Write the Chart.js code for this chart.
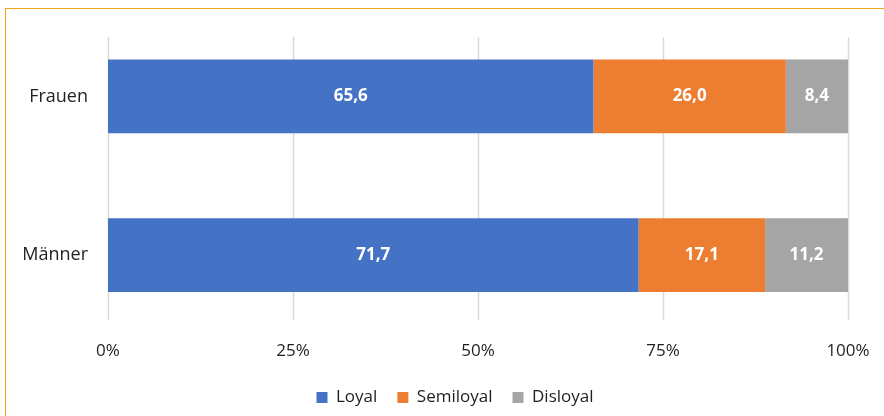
<!DOCTYPE html>
<html lang="de">
  <head>
    <meta charset="UTF-8" />
    <title>Loyalität nach Geschlecht</title>
    <script src="https://cdn.jsdelivr.net/npm/chart.js@4/dist/chart.umd.min.js"></script>
    <style>
      html, body { margin: 0; padding: 0; background: #fff; }
      #frame {
        position: absolute; left: 5px; top: 8px; width: 900px; height: 430px;
        border-left: 1.5px solid #F5A31A; border-top: 1.5px solid #F5A31A;
      }
      #wrap { position: absolute; left: 0; top: 0; width: 884px; height: 416px; }
    </style>
  </head>
  <body>
    <div id="frame"></div>
    <div id="wrap"><canvas id="chart"></canvas></div>
    <script>
      const categories = ['Frauen', 'Männer'];
      const loyal = [65.6, 71.7];
      const semiloyal = [26.0, 17.1];
      const disloyal = [8.4, 11.2];
      const xTicks = [0, 25, 50, 75, 100];

      const font = "'Open Sans', sans-serif";

      // vertical gridlines, shorter than the plot area like in the original
      const shortGrid = {
        id: 'shortGrid',
        beforeDatasetsDraw(chart) {
          const ctx = chart.ctx;
          const x = chart.scales.x;
          ctx.save();
          ctx.strokeStyle = '#D9D9D9';
          ctx.lineWidth = 1.5;
          xTicks.forEach(v => {
            const px = Math.round(x.getPixelForValue(v)) + 0.5;
            ctx.beginPath();
            ctx.moveTo(px, 37);
            ctx.lineTo(px, 320);
            ctx.stroke();
          });
          ctx.restore();
        }
      };

      // writes the value in the middle of each segment
      const valueLabels = {
        id: 'valueLabels',
        afterDatasetsDraw(chart) {
          const ctx = chart.ctx;
          ctx.save();
          ctx.fillStyle = '#fff';
          ctx.font = 'bold 17px ' + font;
          ctx.textAlign = 'center';
          ctx.textBaseline = 'middle';
          chart.data.datasets.forEach((ds, i) => {
            chart.getDatasetMeta(i).data.forEach((bar, j) => {
              const mid = (bar.x + bar.base) / 2;
              ctx.fillText(ds.data[j].toFixed(1).replace('.', ','), mid, bar.y);
            });
          });
          ctx.restore();
        }
      };

      // the original legend sits a little right of the middle
      const shiftLegend = {
        id: 'shiftLegend',
        afterLayout(chart) {
          chart.legend.left += 31;
          chart.legend.right += 31;
        }
      };

      const ctx = document.getElementById('chart').getContext('2d');
      const chart = new Chart(ctx, {
        type: 'bar',
        data: {
          labels: categories,
          datasets: [
            { label: 'Loyal', data: loyal, backgroundColor: '#4472C4' },
            { label: 'Semiloyal', data: semiloyal, backgroundColor: '#ED7D31' },
            { label: 'Disloyal', data: disloyal, backgroundColor: '#A5A5A5' },
          ],
        },
        options: {
          indexAxis: 'y',
          responsive: true,
          maintainAspectRatio: false,
          animation: false,
          layout: { padding: { left: 0, right: 36, top: 17, bottom: 0 } },
          datasets: {
            bar: { barPercentage: 0.465, categoryPercentage: 1, borderWidth: 0 },
          },
          scales: {
            x: {
              stacked: true,
              min: 0,
              max: 100,
              afterBuildTicks: s => { s.ticks = xTicks.map(v => ({ value: v })); },
              afterFit: s => { s.height = 34.5; },
              grid: { display: false, drawTicks: false },
              border: { display: false },
              ticks: {
                padding: 6,
                color: '#1f1f1f',
                font: { family: font, size: 17 },
                callback: v => v + '%',
              },
            },
            y: {
              stacked: true,
              afterFit: s => { s.width = 108; s.paddingTop = 0; s.paddingBottom = 0; },
              grid: { display: false, drawTicks: false },
              border: { display: false },
              ticks: {
                padding: 20,
                color: '#1f1f1f',
                font: { family: font, size: 18 },
              },
            },
          },
          plugins: {
            tooltip: { enabled: false },
            legend: {
              position: 'bottom',
              labels: {
                boxWidth: 11,
                boxHeight: 11,
                padding: 20,
                color: '#1f1f1f',
                font: { family: font, size: 17 },
              },
            },
          },
        },
        plugins: [shortGrid, valueLabels, shiftLegend],
      });
    </script>
  </body>
</html>
